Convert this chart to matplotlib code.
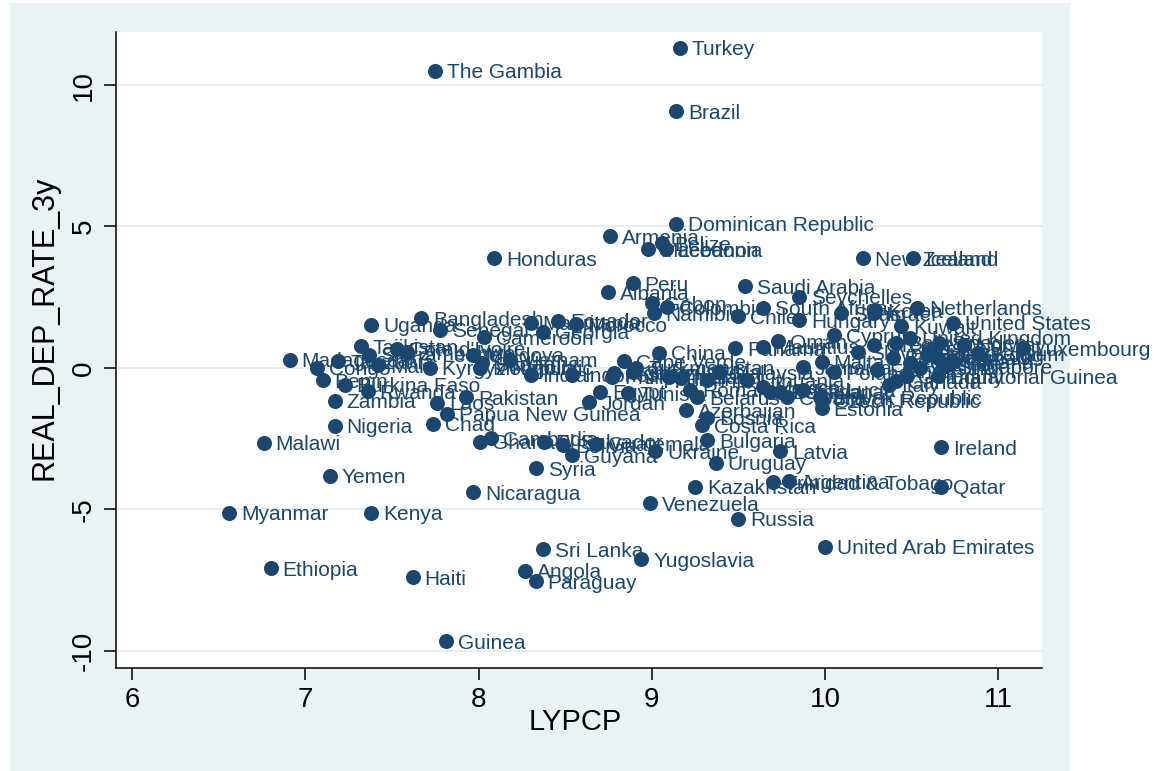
import matplotlib
matplotlib.use("Agg")
import matplotlib.pyplot as plt
from matplotlib.patches import Rectangle

plt.rcParams['font.family'] = ['Liberation Sans', 'DejaVu Sans']

countries = [
    "Turkey", "The Gambia", "Brazil", "Dominican Republic", "Armenia", "Belize",
    "Lebanon", "Macedonia", "Honduras", "New Zealand", "Iceland", "Peru",
    "Albania", "Saudi Arabia", "Seychelles", "Gabon", "Namibia", "Colombia",
    "Chile", "South Africa", "Hungary", "Spain", "Israel", "Korea",
    "Netherlands", "United States", "Kuwait", "Cyprus", "Oman", "Panama",
    "Mauritius", "China", "Cape Verde", "Turkmenistan", "Malaysia", "Jamaica",
    "Malta", "Indonesia", "Philippines", "Egypt", "Tunisia", "Thailand",
    "Iran", "Romania", "Belarus", "Fiji", "Lithuania", "Mexico",
    "Botswana", "Grenada", "Croatia", "St. Lucia", "Slovak Republic", "Czech Republic",
    "Estonia", "Azerbaijan", "Bosnia", "Costa Rica", "Bulgaria", "Latvia",
    "Uruguay", "Ukraine", "Kazakhstan", "Trinidad & Tobago", "Argentina", "Qatar",
    "Ireland", "Venezuela", "Russia", "United Arab Emirates", "Yugoslavia", "Sri Lanka",
    "Angola", "Paraguay", "Nicaragua", "Syria", "Guyana", "Bolivia",
    "Guatemala", "El Salvador", "Cambodia", "Ghana", "Jordan", "Algeria",
    "Swaziland", "Madagascar", "Tanzania", "Sierra Leone", "Tajikistan", "Cote d'Ivoire",
    "Zimbabwe", "Congo", "Benin", "Burkina Faso", "Rwanda", "Zambia",
    "Laos", "Pakistan", "Papua New Guinea", "Nigeria", "Chad", "Malawi",
    "Yemen", "Myanmar", "Kenya", "Ethiopia", "Haiti", "Guinea",
    "Mali", "Kyrgyz Republic", "Moldova", "Sudan", "Vietnam", "India",
    "Mongolia", "Bangladesh", "Uganda", "Senegal", "Cameroon", "Mauritania",
    "Ecuador", "Georgia", "Morocco", "Slovenia", "Greece", "Bahrain",
    "United Kingdom", "Bahamas", "Australia", "Japan", "Sweden", "Norway",
    "Luxembourg", "France", "Italy", "Germany", "Canada", "Equatorial Guinea",
    "Finland", "Denmark", "Hong Kong", "Belgium", "Poland", "Austria",
    "Singapore",
]

lypcp = [
    9.16, 7.75, 9.14, 9.14, 8.76, 9.06,
    9.08, 8.98, 8.09, 10.22, 10.51, 8.89,
    8.75, 9.54, 9.85, 9.00, 9.01, 9.09,
    9.50, 9.64, 9.85, 10.09, 10.28, 10.29,
    10.53, 10.74, 10.44, 10.05, 9.73, 9.48,
    9.64, 9.04, 8.84, 8.91, 9.39, 9.87,
    9.98, 8.54, 8.77, 8.70, 8.86, 9.10,
    9.17, 9.22, 9.26, 9.32, 9.55, 9.64,
    9.74, 9.68, 9.78, 9.87, 9.97, 9.98,
    9.98, 9.20, 9.32, 9.29, 9.32, 9.74,
    9.37, 9.02, 9.25, 9.70, 9.79, 10.67,
    10.67, 8.99, 9.50, 10.00, 8.94, 8.37,
    8.27, 8.33, 7.97, 8.33, 8.54, 8.49,
    8.68, 8.38, 8.07, 8.01, 8.64, 8.78,
    8.89, 6.91, 7.19, 7.37, 7.32, 7.53,
    7.59, 7.07, 7.10, 7.23, 7.36, 7.17,
    7.76, 7.93, 7.82, 7.17, 7.74, 6.76,
    7.14, 6.56, 7.38, 6.80, 7.62, 7.81,
    7.42, 7.72, 7.97, 8.02, 8.18, 8.30,
    8.01, 7.67, 7.38, 7.78, 8.03, 8.30,
    8.46, 8.37, 8.56, 10.19, 10.28, 10.41,
    10.49, 10.39, 10.49, 10.60, 10.66, 10.80,
    11.14, 10.30, 10.37, 10.47, 10.41, 10.65,
    10.74, 10.65, 10.59, 10.88, 10.05, 10.55,
    10.69,
]

real_dep_rate_3y = [
    11.31, 10.50, 9.08, 5.09, 4.66, 4.41,
    4.20, 4.20, 3.88, 3.88, 3.88, 3.00,
    2.68, 2.89, 2.51, 2.29, 1.94, 2.15,
    1.83, 2.12, 1.69, 1.94, 1.94, 2.04,
    2.12, 1.59, 1.48, 1.16, 0.95, 0.70,
    0.74, 0.53, 0.24, 0.00, -0.15, 0.03,
    0.21, -0.25, -0.32, -0.85, -0.89, -0.32,
    -0.36, -0.78, -1.03, -0.43, -0.43, -0.68,
    -0.85, -0.85, -1.03, -0.78, -1.03, -1.17,
    -1.42, -1.49, -1.77, -2.02, -2.55, -2.94,
    -3.36, -2.94, -4.21, -4.04, -4.00, -4.21,
    -2.80, -4.78, -5.34, -6.33, -6.76, -6.41,
    -7.18, -7.54, -4.39, -3.54, -3.08, -2.73,
    -2.69, -2.62, -2.48, -2.62, -1.21, -0.18,
    -0.15, 0.28, 0.24, 0.46, 0.77, 0.67,
    0.56, 0.00, -0.43, -0.60, -0.82, -1.17,
    -1.24, -1.03, -1.63, -2.05, -1.98, -2.65,
    -3.82, -5.13, -5.13, -7.08, -7.40, -9.66,
    0.10, 0.00, 0.46, 0.17, 0.28, -0.25,
    0.00, 1.76, 1.52, 1.34, 1.09, 1.59,
    1.66, 1.27, 1.55, 0.56, 0.81, 0.88,
    1.06, 0.35, 0.17, 0.56, 0.88, 0.81,
    0.70, -0.08, -0.60, -0.29, -0.47, -0.29,
    0.21, 0.35, 0.46, 0.52, -0.15, 0.00,
    0.06,
]

x_ticks = [6, 7, 8, 9, 10, 11]
y_ticks = [-10, -5, 0, 5, 10]
x_title = "LYPCP"
y_title = "REAL_DEP_RATE_3y"

NAVY = '#1A476F'
BG = '#EAF2F3'

W, H = 1159, 771
fig = plt.figure(figsize=(W / 100, H / 100), dpi=100)
fig.patch.set_facecolor('white')
fig.patches.append(Rectangle((10 / W, 0), (1070 - 10) / W, (771 - 3) / H,
                             transform=fig.transFigure, facecolor=BG,
                             edgecolor='none', zorder=-10))

ax = fig.add_axes([115.7 / W, (H - 668) / H, (1042 - 115.7) / W, (668 - 32) / H])
ax.set_facecolor('white')
ax.set_xlim(5.906, 11.252)
ax.set_ylim(-10.61, 11.875)

ax.set_axisbelow(True)
ax.yaxis.grid(True, color='#E3ECEE', linewidth=1.2)
ax.xaxis.grid(False)

for s in ['top', 'right']:
    ax.spines[s].set_visible(False)
for s in ['left', 'bottom']:
    ax.spines[s].set_linewidth(1.1)
    ax.spines[s].set_color('black')

ax.set_xticks(x_ticks)
ax.set_yticks(y_ticks)
ax.set_xticklabels([str(t) for t in x_ticks])
ax.set_yticklabels([str(t) for t in y_ticks])
ax.tick_params(axis='both', length=8.6, width=1.1, color='black', labelsize=20, pad=5)
plt.setp(ax.get_yticklabels(), rotation=90, va='center')

ax.scatter(lypcp, real_dep_rate_3y, s=117, color=NAVY, linewidths=0, zorder=3, clip_on=False)

for name, xv, yv in zip(countries, lypcp, real_dep_rate_3y):
    ax.annotate(name, (xv, yv), xytext=(8.6, 0), textcoords='offset points',
                ha='left', va='center_baseline', fontsize=15, color=NAVY,
                annotation_clip=False, zorder=2)

fig.text(575 / W, (H - 722) / H, x_title, ha='center', va='center', fontsize=21, color='black')
fig.text(45 / W, (H - 328) / H, y_title, ha='center', va='center', rotation=90, fontsize=22, color='black')

fig.savefig('out.png', dpi=100, facecolor=fig.get_facecolor())
